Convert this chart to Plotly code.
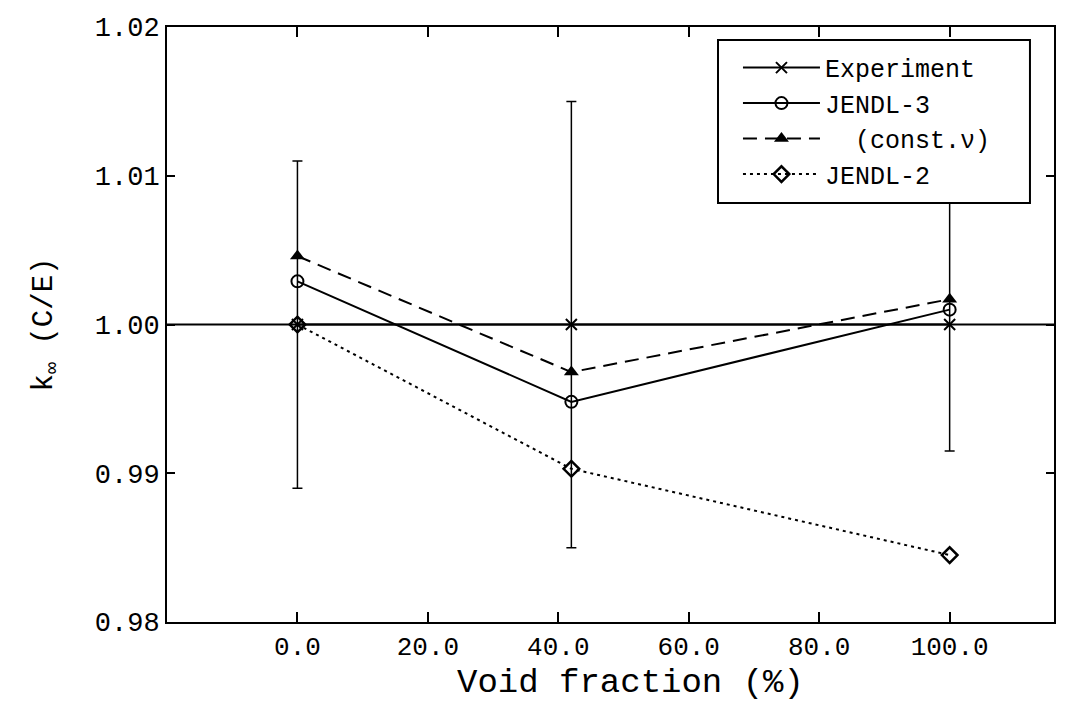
import plotly.graph_objects as go

void = [0.0, 42.0, 100.0]
exp_vals = [1.000, 1.000, 1.000]
exp_err = [0.011, 0.015, 0.0085]
jendl3 = [1.0029, 0.9948, 1.0010]
jendl3_const = [1.0046, 0.9968, 1.0017]
jendl2 = [1.0000, 0.9903, 0.9845]
x_ticks = [0, 20, 40, 60, 80, 100]
y_ticks = [0.98, 0.99, 1.00, 1.01, 1.02]

FONT = "Liberation Mono"

fig = go.Figure()

# reference line at C/E = 1 across the whole plot
fig.add_shape(type="line", xref="paper", x0=0, x1=1, yref="y", y0=1.0, y1=1.0,
              line=dict(color="black", width=2), layer="below")
# legend frame (white, covers the data beneath like the original)
fig.add_shape(type="rect", xref="paper", yref="paper",
              x0=0.6212, x1=0.9729, y0=0.704, y1=0.978,
              line=dict(color="black", width=2), fillcolor="white", layer="above")

fig.add_trace(go.Scatter(
    x=void, y=exp_vals, name="Experiment", mode="lines+markers",
    line=dict(color="black", width=2),
    marker=dict(symbol="x-thin", size=11, line=dict(color="black", width=2)),
    error_y=dict(type="data", array=exp_err, visible=True, color="black",
                 thickness=1.5, width=5),
))
fig.add_trace(go.Scatter(
    x=void, y=jendl3, name="JENDL-3", mode="lines+markers",
    line=dict(color="black", width=2),
    marker=dict(symbol="circle-open", size=12, line=dict(color="black", width=2)),
))
fig.add_trace(go.Scatter(
    x=void, y=jendl3_const, name="  (const.\u03bd)", mode="lines+markers",
    line=dict(color="black", width=2, dash="14px,8px"),
    marker=dict(symbol="triangle-up", size=13, color="black"),
))
fig.add_trace(go.Scatter(
    x=void, y=jendl2, name="JENDL-2", mode="lines+markers",
    line=dict(color="black", width=2, dash="3px,4px"),
    marker=dict(symbol="diamond-open", size=12, line=dict(color="black", width=2.5)),
))

fig.add_annotation(
    text="Void fraction (%)", xref="paper", yref="paper",
    x=0.523, y=-0.1025, xanchor="center", yanchor="middle",
    showarrow=False, font=dict(family=FONT, size=34, color="black"),
)

fig.update_layout(
    width=1081, height=706,
    margin=dict(l=167, r=27, t=27, b=84),
    paper_bgcolor="white", plot_bgcolor="white",
    font=dict(family=FONT, color="black", size=26),
    showlegend=True,
    legend=dict(
        x=0.6437, y=0.970, xanchor="left", yanchor="top",
        bgcolor="rgba(0,0,0,0)", borderwidth=0,
        font=dict(family=FONT, size=25, color="black"),
        itemwidth=77, tracegroupgap=0,
    ),
    xaxis=dict(
        range=[-20, 116], tickvals=x_ticks, tickformat=".1f",
        ticks="inside", ticklen=10, tickwidth=2, tickcolor="black",
        showline=True, linecolor="black", linewidth=2, mirror="ticks",
        showgrid=False, zeroline=False,
        tickfont=dict(family=FONT, size=26),
    ),
    yaxis=dict(
        range=[0.98, 1.02], tickvals=y_ticks, tickformat=".2f",
        ticks="inside", ticklen=8, tickwidth=2, tickcolor="black",
        showline=True, linecolor="black", linewidth=2, mirror="ticks",
        showgrid=False, zeroline=False,
        title=dict(text="k<sub>\u221e</sub> (C/E)", font=dict(family=FONT, size=29), standoff=34),
        tickfont=dict(family=FONT, size=27),
    ),
)

fig.write_html("out.html")
